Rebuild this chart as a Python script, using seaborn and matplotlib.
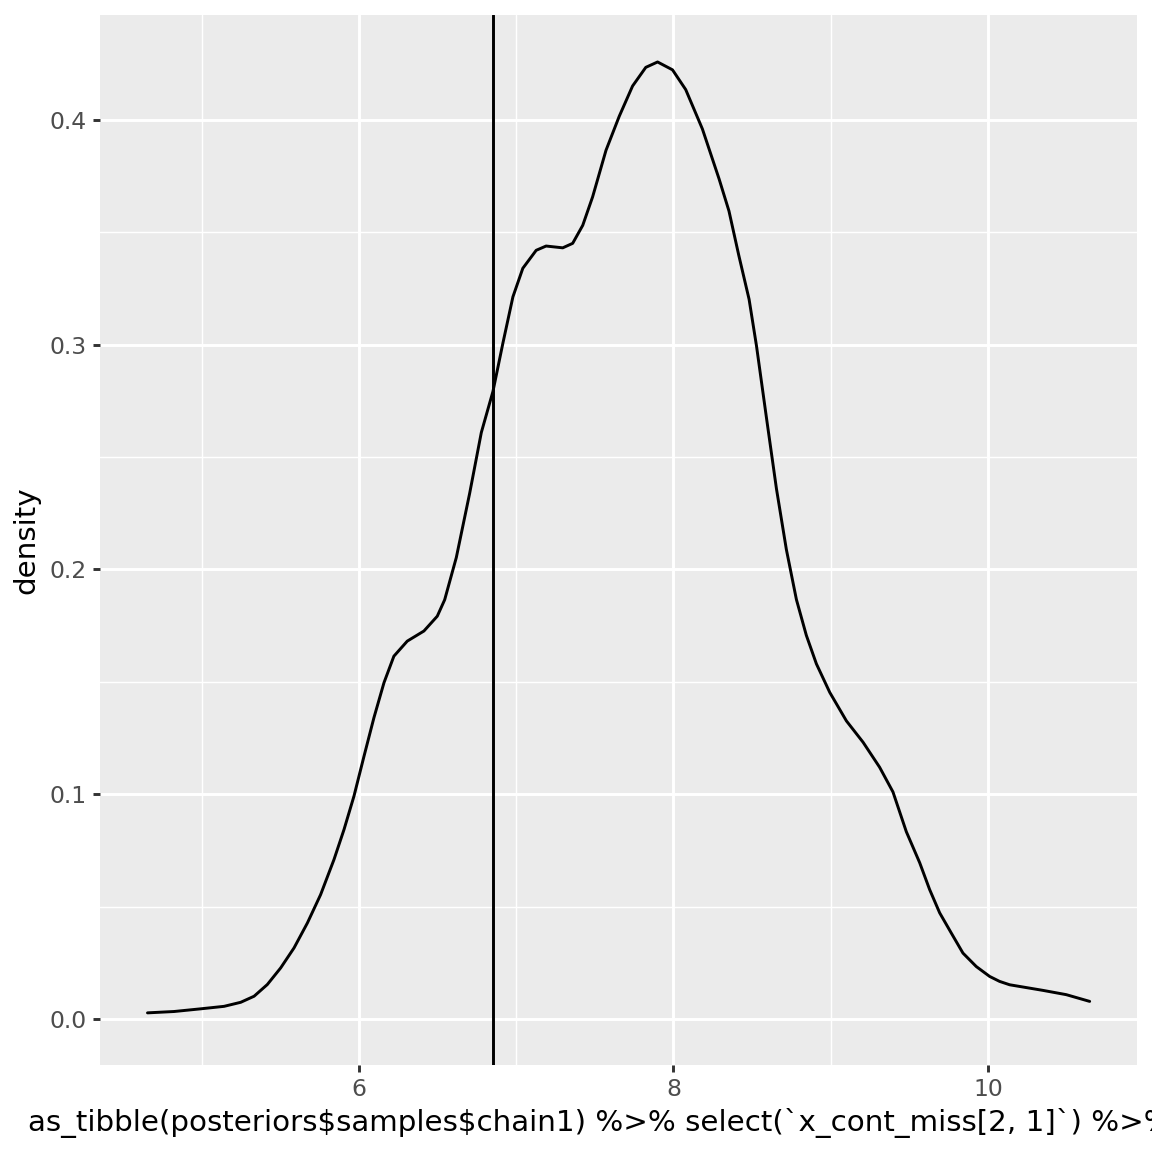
import pandas as pd
import seaborn as sns
import matplotlib.pyplot as plt

# density curve
x_vals = [4.655, 4.824, 4.994, 5.142, 5.248, 5.333, 5.417, 5.502, 5.587, 5.672,
          5.756, 5.841, 5.905, 5.968, 6.032, 6.095, 6.159, 6.222, 6.307, 6.413,
          6.498, 6.545, 6.619, 6.704, 6.778, 6.852, 6.915, 6.979, 7.042, 7.127,
          7.190, 7.296, 7.359, 7.423, 7.486, 7.571, 7.655, 7.740, 7.824, 7.899,
          7.994, 8.078, 8.184, 8.290, 8.353, 8.416, 8.481, 8.528, 8.591, 8.655,
          8.718, 8.782, 8.845, 8.909, 8.994, 9.100, 9.206, 9.311, 9.396, 9.481,
          9.566, 9.629, 9.693, 9.767, 9.841, 9.926, 10.011, 10.074, 10.138, 10.350,
          10.498, 10.647]
density = [0.0027, 0.0033, 0.0045, 0.0056, 0.0074, 0.0101, 0.0153, 0.0227, 0.0316, 0.0427,
           0.0553, 0.0709, 0.0843, 0.0991, 0.1169, 0.1340, 0.1496, 0.1614, 0.1681, 0.1726,
           0.1792, 0.1865, 0.2053, 0.2339, 0.2609, 0.2792, 0.3006, 0.3213, 0.3340, 0.3420,
           0.3439, 0.3431, 0.3451, 0.3531, 0.3658, 0.3865, 0.4016, 0.4151, 0.4234, 0.4258,
           0.4223, 0.4135, 0.3960, 0.3738, 0.3595, 0.3396, 0.3202, 0.2995, 0.2677, 0.2359,
           0.2089, 0.1866, 0.1707, 0.1580, 0.1453, 0.1326, 0.1231, 0.1120, 0.1010, 0.0833,
           0.0695, 0.0576, 0.0472, 0.0382, 0.0293, 0.0233, 0.0189, 0.0167, 0.0152, 0.0127,
           0.0108, 0.0078]
true_value = 6.852

x_ticks = [6, 8, 10]
y_ticks = [0.0, 0.1, 0.2, 0.3, 0.4]
x_label = r"as_tibble(posteriors\$samples\$chain1) %>% select(`x_cont_miss[2, 1]`) %>% ..."

df = pd.DataFrame({"x": x_vals, "density": density})

sns.set_theme(style="darkgrid", rc={
    "axes.facecolor": "#EBEBEB",
    "grid.color": "white",
    "axes.edgecolor": "#EBEBEB",
})
plt.rcParams["font.family"] = ["DejaVu Sans"]

# ggplot-like sizes: 6in at 192 dpi
fig = plt.figure(figsize=(6, 6), dpi=192)
ax = fig.add_axes([100 / 1152, 1 - 1065 / 1152, 1037 / 1152, 1050 / 1152])

sns.lineplot(data=df, x="x", y="density", color="black", linewidth=1.1, ax=ax)
ax.axvline(true_value, color="black", linewidth=1.1)

ax.set_xlim(4.353, 10.948)
ax.set_ylim(-0.0205, 0.4467)
ax.set_xticks(x_ticks)
ax.set_xticklabels([str(t) for t in x_ticks])
ax.set_yticks(y_ticks)
ax.set_yticklabels([f"{t:.1f}" for t in y_ticks])
ax.set_xticks([5, 7, 9], minor=True)
ax.set_yticks([0.05, 0.15, 0.25, 0.35], minor=True)

ax.grid(which="major", color="white", linewidth=1.1)
ax.grid(which="minor", color="white", linewidth=0.55)
ax.tick_params(which="major", length=2.75, width=1.1, color="#333333",
               labelsize=8.8, labelcolor="#4D4D4D", pad=2.2,
               bottom=True, left=True)
ax.tick_params(which="minor", length=0)
for s in ax.spines.values():
    s.set_visible(False)

ax.set_ylabel("density", fontsize=11, color="black")
ax.yaxis.set_label_coords((40 - 100) / 1037, 0.5)
ax.set_xlabel(x_label, fontsize=11, color="black", ha="left")
ax.xaxis.set_label_coords((28 - 100) / 1037, -0.041)

fig.savefig("out.png", dpi=192)
